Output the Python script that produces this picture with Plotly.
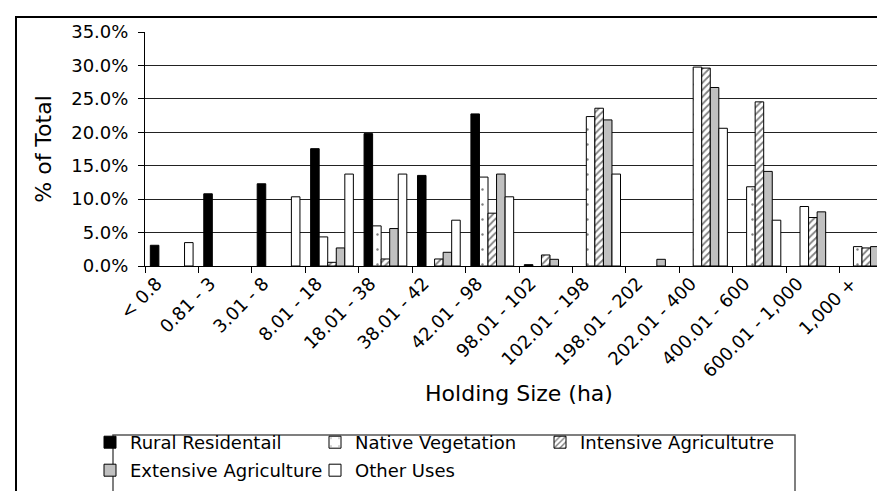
import plotly.graph_objects as go


CATEGORIAS = [
    "< 0.8", "0.81 - 3", "3.01 - 8", "8.01 - 18", "18.01 - 38", "38.01 - 42",
    "42.01 - 98", "98.01 - 102", "102.01 - 198", "198.01 - 202",
    "202.01 - 400", "400.01 - 600", "600.01 - 1,000", "1,000 +",
]

# None = sin barra en esa categor칤a
RURAL = [3.1, 10.8, 12.3, 17.55, 19.8, 13.55, 22.75, 0.2, None, None, None, None, None, None]
NATIVE = [None, None, None, 4.35, 6.0, None, 13.3, None, 22.35, None, 29.75, 11.85, 8.9, 2.9]
INTENSIVE = [None, None, None, 0.55, 1.05, 1.05, 7.9, 1.65, 23.6, None, 29.6, 24.55, 7.25, 2.7]
EXTENSIVE = [None, None, None, 2.7, 5.6, 2.05, 13.75, 1.0, 21.85, 1.0, 26.7, 14.15, 8.1, 2.9]
OTHER = [3.5, None, 10.35, 13.75, 13.75, 6.85, 10.35, None, 13.75, None, 20.6, 6.85, None, None]

Y_TICKS = [0, 5, 10, 15, 20, 25, 30, 35]
Y_TICKTEXT = [f"{v:.1f}%" for v in Y_TICKS]

FUENTE = "DejaVu Sans"
W, H = 885, 491
ML, MR, MT, MB = 137, 0, 24, 233


def px_x(p):
    # pixel -> paper x
    return (p - ML) / (W - ML - MR)


def px_y(p):
    # pixel -> paper y
    return (H - MB - p) / (H - MT - MB)


fig = go.Figure()

# Se usan tres leyendas para reproducir la disposici칩n en 3 columnas / 2 filas.
series = [
    ("Rural Residentail", RURAL, dict(color="#000000"), "legend"),
    ("Native Vegetation", NATIVE,
     dict(color="#FFFFFF", pattern=dict(shape=".", fgcolor="#000000", bgcolor="#FFFFFF", size=15, solidity=0.02)),
     "legend"),
    ("Intensive Agricultutre", INTENSIVE,
     dict(color="#FFFFFF", pattern=dict(shape="/", fgcolor="#000000", bgcolor="#FFFFFF", size=5, solidity=0.35)),
     "legend3"),
    ("Extensive Agriculture", EXTENSIVE, dict(color="#C0C0C0"), "legend2"),
    ("Other Uses", OTHER, dict(color="#FFFFFF"), "legend2"),
]

for nombre, valores, marker, leyenda in series:
    fig.add_trace(
        go.Bar(
            x=CATEGORIAS,
            y=valores,
            name=nombre,
            marker=dict(**marker, line=dict(color="#000000", width=1)),
            legend=leyenda,
        )
    )

leyenda_base = dict(
    orientation="h",
    xanchor="left",
    yanchor="top",
    bgcolor="rgba(0,0,0,0)",
    font=dict(family=FUENTE, size=18, color="#000000"),
    tracegroupgap=0,
)

LEG_X = 82

fig.update_layout(
    width=W,
    height=H,
    barmode="group",
    bargap=0.2,
    bargroupgap=0,
    plot_bgcolor="#FFFFFF",
    paper_bgcolor="#FFFFFF",
    font=dict(family=FUENTE, size=18, color="#000000"),
    margin=dict(l=ML, r=MR, t=MT, b=MB, autoexpand=False),
    legend=dict(leyenda_base, entrywidth=180, x=px_x(LEG_X), y=px_y(416)),
    legend2=dict(leyenda_base, entrywidth=180, x=px_x(LEG_X), y=px_y(444)),
    legend3=dict(leyenda_base, x=px_x(LEG_X + 450), y=px_y(416)),
    xaxis=dict(
        type="category",
        showline=True,
        linecolor="#000000",
        linewidth=1,
        ticks="outside",
        ticklen=6,
        tickcolor="#000000",
        tickson="boundaries",
        tickangle=-45,
        ticklabelstandoff=-1,
        ticklabelshift=-15,
        showgrid=False,
        title=dict(text="Holding Size (ha)", standoff=5),
        range=[-0.5, 13.5],
    ),
    yaxis=dict(
        range=[0, 35],
        tickvals=Y_TICKS,
        ticktext=Y_TICKTEXT,
        showline=True,
        linecolor="#000000",
        linewidth=1,
        ticks="outside",
        ticklen=6,
        tickcolor="#000000",
        ticklabelstandoff=6,
        showgrid=True,
        gridcolor="#222222",
        gridwidth=1,
        zeroline=False,
        title=dict(text="% of Total", standoff=13),
    ),
)

# Borde exterior del gr치fico (se corta a la derecha y abajo)
fig.add_shape(
    type="rect", xref="paper", yref="paper",
    x0=px_x(8), y0=px_y(H + 10), x1=px_x(W + 10), y1=px_y(9),
    line=dict(color="#000000", width=2), fillcolor="rgba(0,0,0,0)", layer="below",
)

# Caja de la leyenda
fig.add_shape(
    type="rect", xref="paper", yref="paper",
    x0=px_x(105), y0=px_y(488), x1=px_x(787), y1=px_y(427),
    line=dict(color="#555555", width=1.5), fillcolor="rgba(0,0,0,0)",
)

fig.write_html("out.html")
